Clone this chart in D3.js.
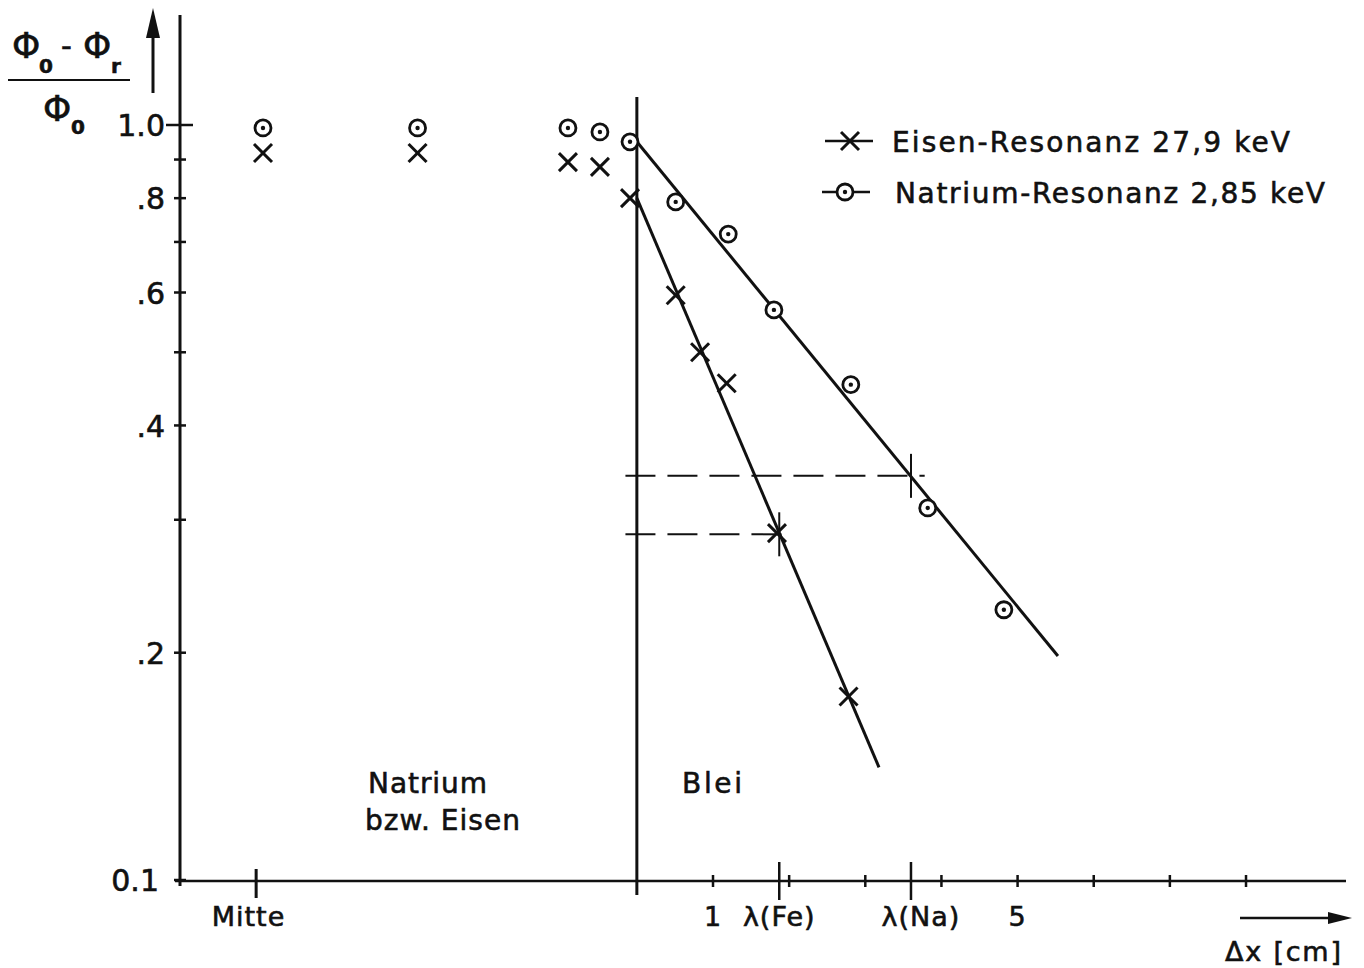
<!DOCTYPE html>
<html>
<head>
<meta charset="utf-8">
<script src="https://cdn.jsdelivr.net/npm/d3@7"></script>
<style>
  body { margin: 0; background: #fff; }
  text { font-family: "DejaVu Sans", sans-serif; fill: #111; stroke: #111; stroke-width: 0.6px; }
</style>
</head>
<body>
<script>
// Natrium-Resonanz (circles): distance in cm (0 = boundary to lead), ratio
const naX = [-4.91, -2.88, -0.905, -0.485, -0.09, 0.51, 1.20, 1.80, 2.81, 3.82, 4.82];
const naY = [0.991, 0.991, 0.991, 0.979, 0.95, 0.791, 0.717, 0.569, 0.453, 0.311, 0.228];
// Eisen-Resonanz (crosses)
const feX = [-4.91, -2.88, -0.905, -0.485, -0.09, 0.51, 0.83, 1.18, 1.84, 2.78];
const feY = [0.918, 0.918, 0.893, 0.880, 0.80, 0.595, 0.50, 0.455, 0.288, 0.175];
// fitted lines in lead
const naFit = [[0, 0.95], [5.53, 0.198]];
const feFit = [[0, 0.80], [3.18, 0.141]];
// relaxation lengths
const lambdaFe = [1.87, 0.287];
const lambdaNa = [3.6, 0.343];

const yTicks = [1.0, 0.9, 0.8, 0.7, 0.6, 0.5, 0.4, 0.3, 0.2, 0.1];
const yLabels = [[1.0, "1.0"], [0.8, ".8"], [0.6, ".6"], [0.4, ".4"], [0.2, ".2"], [0.1, "0.1"]];
const xTicks = [1, 2, 3, 4, 5, 6, 7, 8];
const xLabels = [[-5.1, "Mitte"], [1, "1"], [1.87, "λ(Fe)"], [3.73, "λ(Na)"], [5, "5"]];

const width = 1364, height = 968;
const svg = d3.select("body").append("svg").attr("width", width).attr("height", height);

const x = d3.scaleLinear().domain([-6, 9.3]).range([180, 1345]);
const y = d3.scaleLog().domain([0.1, 1]).range([880, 125]);
const ink = "#111";

// y axis
svg.append("line").attr("x1", x(-6)).attr("x2", x(-6)).attr("y1", 15).attr("y2", 886)
   .attr("stroke", ink).attr("stroke-width", 3);
svg.selectAll(".ytick").data(yTicks).enter().append("line")
   .attr("x1", d => x(-6) - (d === 1 ? 14 : 6)).attr("x2", d => x(-6) + (d === 1 ? 13 : 6))
   .attr("y1", d => y(d)).attr("y2", d => y(d))
   .attr("stroke", ink).attr("stroke-width", 2.5);
const yAxis = svg.append("g").attr("transform", `translate(${x(-6)},0)`)
   .call(d3.axisLeft(y).tickValues(yLabels.map(d => d[0])).tickSize(0).tickPadding(15)
      .tickFormat(v => yLabels.find(d => d[0] === v)[1]));
yAxis.select(".domain").remove();
yAxis.selectAll("text").style("font-family", "DejaVu Sans, sans-serif").style("font-size", "30px")
   .attr("fill", ink).attr("dy", "0.36em").attr("dx", d => d === 0.1 ? -6 : 0);

// up arrow beside y axis
svg.append("line").attr("x1", 153).attr("x2", 153).attr("y1", 30).attr("y2", 93)
   .attr("stroke", ink).attr("stroke-width", 3);
svg.append("path").attr("d", "M153,8 L146,38 L160,38 Z").attr("fill", ink);

// y label
const yl = svg.append("g");
yl.append("text").attr("x", 12).attr("y", 58).style("font-size", "36px").text("Φ");
yl.append("text").attr("x", 39).attr("y", 73).style("font-size", "20px").style("font-weight", "bold").text("0");
yl.append("text").attr("x", 61).attr("y", 56).style("font-size", "30px").text("-");
yl.append("text").attr("x", 83).attr("y", 58).style("font-size", "36px").text("Φ");
yl.append("text").attr("x", 111).attr("y", 73).style("font-size", "20px").style("font-weight", "bold").text("r");
yl.append("line").attr("x1", 8).attr("x2", 130).attr("y1", 80).attr("y2", 80)
   .attr("stroke", ink).attr("stroke-width", 2);
yl.append("text").attr("x", 43).attr("y", 121).style("font-size", "36px").text("Φ");
yl.append("text").attr("x", 71).attr("y", 134).style("font-size", "20px").style("font-weight", "bold").text("0");

// x axis
svg.append("line").attr("x1", 175).attr("x2", 1346).attr("y1", 881).attr("y2", 881)
   .attr("stroke", ink).attr("stroke-width", 2.5);
svg.selectAll(".xtick").data(xTicks).enter().append("line")
   .attr("x1", d => x(d)).attr("x2", d => x(d)).attr("y1", 875).attr("y2", 887)
   .attr("stroke", ink).attr("stroke-width", 2.5);
svg.append("line").attr("x1", x(-5)).attr("x2", x(-5)).attr("y1", 869).attr("y2", 898)
   .attr("stroke", ink).attr("stroke-width", 3);
[lambdaFe, lambdaNa].forEach(l => {
  svg.append("line").attr("x1", x(l[0])).attr("x2", x(l[0])).attr("y1", 862).attr("y2", 900)
     .attr("stroke", ink).attr("stroke-width", 2.5);
});
svg.selectAll(".xlab").data(xLabels).enter().append("text")
   .attr("x", d => x(d[0])).attr("y", 926).attr("text-anchor", "middle")
   .style("font-size", "27px").style("letter-spacing", "1px").text(d => d[1]);

// right arrow and axis title
svg.append("line").attr("x1", 1240).attr("x2", 1332).attr("y1", 918).attr("y2", 918)
   .attr("stroke", ink).attr("stroke-width", 2.5);
svg.append("path").attr("d", "M1352,918 L1328,912 L1328,924 Z").attr("fill", ink);
svg.append("text").attr("x", 1225).attr("y", 961).style("font-size", "27px")
   .attr("textLength", 116).text("Δx [cm]");

// boundary between sodium/iron and lead
svg.append("line").attr("x1", x(0)).attr("x2", x(0)).attr("y1", 97).attr("y2", 895)
   .attr("stroke", ink).attr("stroke-width", 3);

// dashed guides to relaxation lengths
[lambdaNa, lambdaFe].forEach(l => {
  svg.append("line").attr("x1", x(-0.15)).attr("x2", x(l[0] + 0.18)).attr("y1", y(l[1])).attr("y2", y(l[1]))
     .attr("stroke", ink).attr("stroke-width", 2).attr("stroke-dasharray", "30,12");
  svg.append("line").attr("x1", x(l[0])).attr("x2", x(l[0])).attr("y1", y(l[1]) - 22).attr("y2", y(l[1]) + 22)
     .attr("stroke", ink).attr("stroke-width", 2);
});

// fitted lines
const line = d3.line().x(d => x(d[0])).y(d => y(d[1]));
[naFit, feFit].forEach(f => {
  svg.append("path").attr("d", line(f)).attr("fill", "none").attr("stroke", ink).attr("stroke-width", 3);
});

// markers
function cross(g, cx, cy, s) {
  g.append("line").attr("x1", cx - s).attr("x2", cx + s).attr("y1", cy - s).attr("y2", cy + s)
   .attr("stroke", ink).attr("stroke-width", 3);
  g.append("line").attr("x1", cx - s).attr("x2", cx + s).attr("y1", cy + s).attr("y2", cy - s)
   .attr("stroke", ink).attr("stroke-width", 3);
}
function ring(g, cx, cy) {
  g.append("circle").attr("cx", cx).attr("cy", cy).attr("r", 8)
   .attr("fill", "#fff").attr("stroke", ink).attr("stroke-width", 2.8);
  g.append("circle").attr("cx", cx).attr("cy", cy).attr("r", 2.2).attr("fill", ink);
}
const marks = svg.append("g");
naX.forEach((v, i) => ring(marks, x(v), y(naY[i])));
feX.forEach((v, i) => cross(marks, x(v), y(feY[i]), 9));

// legend
cross(svg, 850, 141, 9);
svg.append("line").attr("x1", 825).attr("x2", 873).attr("y1", 141).attr("y2", 141)
   .attr("stroke", ink).attr("stroke-width", 2.5);
svg.append("text").attr("x", 892).attr("y", 152).style("font-size", "28px")
   .attr("textLength", 398).attr("lengthAdjust", "spacing").text("Eisen-Resonanz  27,9 keV");
svg.append("line").attr("x1", 822).attr("x2", 870).attr("y1", 192).attr("y2", 192)
   .attr("stroke", ink).attr("stroke-width", 2.5);
ring(svg, 845, 192);
svg.append("text").attr("x", 895).attr("y", 203).style("font-size", "28px")
   .attr("textLength", 430).attr("lengthAdjust", "spacing").text("Natrium-Resonanz  2,85 keV");

// region labels
svg.append("text").attr("x", 368).attr("y", 793).style("font-size", "28px")
   .attr("textLength", 119).text("Natrium");
svg.append("text").attr("x", 365).attr("y", 830).style("font-size", "28px")
   .attr("textLength", 155).text("bzw. Eisen");
svg.append("text").attr("x", 682).attr("y", 793).style("font-size", "28px")
   .attr("textLength", 60).text("Blei");
</script>
</body>
</html>
